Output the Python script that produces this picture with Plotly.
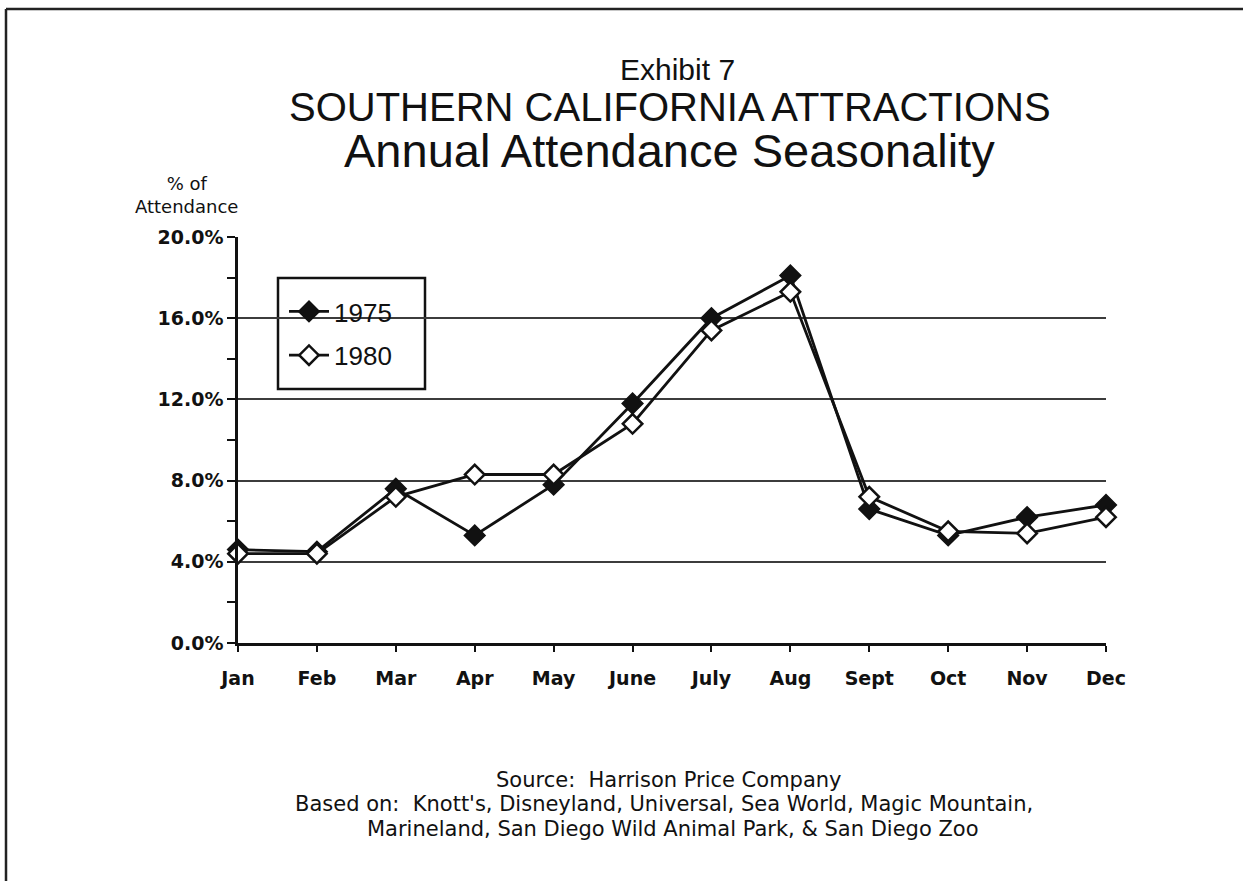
import plotly.graph_objects as go

# Monthly share of annual attendance (%)
months = ["Jan", "Feb", "Mar", "Apr", "May", "June", "July", "Aug", "Sept", "Oct", "Nov", "Dec"]
att_1975 = [4.6, 4.5, 7.6, 5.3, 7.8, 11.8, 16.0, 18.1, 6.6, 5.3, 6.2, 6.8]
att_1980 = [4.4, 4.4, 7.2, 8.3, 8.3, 10.8, 15.4, 17.3, 7.2, 5.5, 5.4, 6.2]

y_tick_vals = [0, 4, 8, 12, 16, 20]
y_tick_text = ["0.0%", "4.0%", "8.0%", "12.0%", "16.0%", "20.0%"]

W, H = 1243, 881
L, R, T, B = 238, 137, 237, 238
PW, PH = W - L - R, H - T - B


def px_x(x):
    return (x - L) / PW


def px_y(y):
    return (H - B - y) / PH


INK = "#111111"
TICK_FONT = dict(family="DejaVu Sans", size=19, color=INK, weight="bold")
SANS = "Liberation Sans"
WIDE = "DejaVu Sans"

fig = go.Figure()
fig.add_trace(go.Scatter(
    x=months, y=att_1975, name="1975", mode="lines+markers",
    legendgroup="a", cliponaxis=False,
    line=dict(color=INK, width=2.8),
    marker=dict(symbol="diamond", size=16, color=INK, line=dict(color=INK, width=1.5)),
))
fig.add_trace(go.Scatter(
    x=months, y=att_1980, name="1980", mode="lines+markers",
    legendgroup="b", cliponaxis=False,
    line=dict(color=INK, width=2.8),
    marker=dict(symbol="diamond", size=15, color="white", line=dict(color=INK, width=2.5)),
))

fig.update_layout(
    width=W, height=H,
    margin=dict(l=L, r=R, t=T, b=B),
    paper_bgcolor="white", plot_bgcolor="white",
    showlegend=True,
    legend=dict(
        x=px_x(284), y=px_y(288), xanchor="left", yanchor="top",
        bgcolor="rgba(0,0,0,0)", borderwidth=0,
        font=dict(family=SANS, size=26, color=INK),
        tracegroupgap=7, itemwidth=40,
    ),
    xaxis=dict(
        type="category", range=[0, 11],
        showline=True, linecolor=INK, linewidth=2.5,
        ticks="outside", ticklen=6, tickwidth=2, tickcolor=INK,
        tickfont=TICK_FONT, ticklabelstandoff=10,
        showgrid=False, zeroline=False,
    ),
    xaxis2=dict(
        overlaying="x", anchor="y", range=[0, 11], dtick=1, tick0=0,
        ticks="inside", ticklen=6, tickwidth=2, tickcolor=INK,
        showticklabels=False, showgrid=False, zeroline=False, showline=False,
    ),
    yaxis=dict(
        range=[0, 20],
        tickvals=y_tick_vals, ticktext=y_tick_text,
        showline=True, linecolor=INK, linewidth=2.5,
        ticks="outside", ticklen=8, tickwidth=2, tickcolor=INK,
        tickfont=TICK_FONT,
        minor=dict(dtick=2, tick0=0, ticks="outside", ticklen=8, tickwidth=2,
                   tickcolor=INK, showgrid=False),
        showgrid=True, gridcolor="#3c3c3c", gridwidth=2,
        zeroline=False,
    ),
)

# Legend frame (covers the gridlines behind the legend)
fig.add_shape(type="rect", xref="paper", yref="paper",
              x0=px_x(278), x1=px_x(425), y0=px_y(389), y1=px_y(278),
              line=dict(color=INK, width=2.5), fillcolor="white", layer="between")

# Page frame (top and left edges)
fig.add_shape(type="line", xref="paper", yref="paper",
              x0=px_x(6), x1=px_x(1243), y0=px_y(9), y1=px_y(9),
              line=dict(color="#222222", width=2.5))
fig.add_shape(type="line", xref="paper", yref="paper",
              x0=px_x(6), x1=px_x(6), y0=px_y(9), y1=px_y(881),
              line=dict(color="#222222", width=2.5))

titles = [
    ("Exhibit 7", 677, 69, 30),
    ("SOUTHERN CALIFORNIA ATTRACTIONS", 670, 107, 40),
    ("Annual Attendance Seasonality", 669, 151, 47),
]
for text, cx, cy, size in titles:
    fig.add_annotation(text=text, xref="paper", yref="paper",
                       x=px_x(cx), y=px_y(cy), xanchor="center", yanchor="middle",
                       showarrow=False, font=dict(family=SANS, size=size, color=INK))

fig.add_annotation(text="% of<br>Attendance", xref="paper", yref="paper",
                   x=px_x(186), y=px_y(195), xanchor="center", yanchor="middle",
                   showarrow=False, align="center",
                   font=dict(family=WIDE, size=18, color=INK))

notes = [
    ("Source:  Harrison Price Company", 669, 780),
    ("Based on:  Knott's, Disneyland, Universal, Sea World, Magic Mountain,", 664, 804),
    ("Marineland, San Diego Wild Animal Park, & San Diego Zoo", 673, 829),
]
for text, cx, cy in notes:
    fig.add_annotation(text=text, xref="paper", yref="paper",
                       x=px_x(cx), y=px_y(cy), xanchor="center", yanchor="middle",
                       showarrow=False, font=dict(family=WIDE, size=21, color=INK))

fig.write_html("out.html")
